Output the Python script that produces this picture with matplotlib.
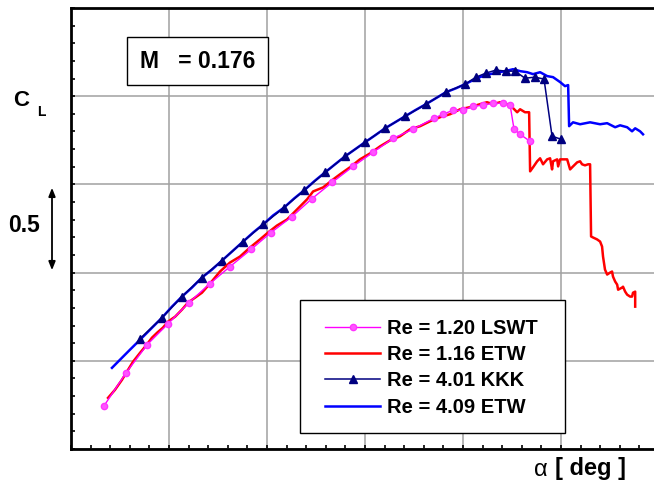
import matplotlib
matplotlib.use("Agg")
import matplotlib.pyplot as plt
from matplotlib.patches import Rectangle, FancyArrowPatch
from matplotlib.ticker import MultipleLocator, NullFormatter

plt.rcParams['font.family'] = ['Liberation Sans', 'DejaVu Sans']
plt.rcParams['font.weight'] = 'bold'

# Re = 1.20 LSWT (magenta, circles)
lswt_alpha = [-3.32, -2.19, -1.12, -0.05, 1.02, 2.09, 3.11, 4.18, 5.20, 6.28, 7.30, 8.32,
              9.39, 10.41, 11.43, 12.45, 13.52, 13.98, 14.49, 15.00, 15.51, 16.02, 16.53,
              17.04, 17.40, 17.60, 17.91, 18.42]
lswt_cl = [0.244, 0.432, 0.591, 0.710, 0.830, 0.938, 1.034, 1.131, 1.227, 1.318, 1.420, 1.511,
           1.602, 1.682, 1.761, 1.813, 1.875, 1.898, 1.920, 1.920, 1.943, 1.949, 1.960,
           1.960, 1.949, 1.813, 1.784, 1.744]

# Re = 1.16 ETW (red)
etw1_alpha = [-3.11, -2.76, -2.40, -2.09, -1.84, -1.48, -1.22, -0.87, -0.61, -0.31, -0.05, 0.31,
              0.66, 0.97, 1.33, 1.68, 2.09, 2.60, 3.11, 3.62, 4.13, 4.64, 5.05, 5.51, 6.02,
              6.53, 7.04, 7.35, 7.86, 8.37, 8.72, 9.23, 9.74, 10.26, 10.77, 11.28, 11.79,
              12.30, 12.81, 13.32, 13.83, 14.34, 14.85, 15.36, 15.87, 16.22, 16.53, 16.89,
              17.24, 17.50, 17.76, 17.91, 18.16, 18.37, 18.42, 18.57, 18.78, 18.93, 19.08,
              19.29, 19.44, 19.54, 19.59, 19.80, 19.85, 19.95, 20.10, 20.31, 20.46, 20.61,
              20.82, 20.97, 21.07, 21.22, 21.38, 21.48, 21.53, 21.63, 21.84, 21.99, 22.09,
              22.14, 22.24, 22.35, 22.50, 22.60, 22.65, 22.76, 22.86, 22.91, 23.11, 23.16,
              23.27, 23.37, 23.52, 23.62, 23.67, 23.78, 23.78]
etw1_cl = [0.290, 0.335, 0.392, 0.449, 0.494, 0.545, 0.580, 0.631, 0.659, 0.688, 0.722, 0.750,
           0.790, 0.830, 0.858, 0.886, 0.938, 1.006, 1.057, 1.091, 1.142, 1.188, 1.227, 1.267,
           1.301, 1.358, 1.415, 1.460, 1.483, 1.528, 1.557, 1.597, 1.642, 1.676, 1.716,
           1.750, 1.773, 1.813, 1.830, 1.858, 1.881, 1.898, 1.926, 1.938, 1.955, 1.966,
           1.955, 1.966, 1.955, 1.938, 1.909, 1.926, 1.909, 1.909, 1.574, 1.597, 1.631,
           1.648, 1.614, 1.642, 1.648, 1.585, 1.631, 1.642, 1.602, 1.642, 1.642, 1.642,
           1.585, 1.602, 1.625, 1.631, 1.614, 1.608, 1.614, 1.614, 1.205, 1.199, 1.188,
           1.176, 1.148, 1.091, 1.017, 0.989, 1.000, 1.006, 0.977, 0.949, 0.932, 0.903,
           0.915, 0.920, 0.892, 0.875, 0.864, 0.864, 0.886, 0.892, 0.807]

# Re = 4.01 KKK (navy, triangles)
kkk_alpha = [-1.48, -0.36, 0.66, 1.68, 2.70, 3.78, 4.80, 5.87, 6.89, 7.96, 8.98, 10.00,
             11.02, 12.04, 13.11, 14.13, 15.10, 15.66, 16.17, 16.68, 17.19, 17.65, 18.16,
             18.67, 19.13, 19.54, 20.00]
kkk_cl = [0.625, 0.744, 0.864, 0.972, 1.068, 1.176, 1.273, 1.369, 1.466, 1.568, 1.659, 1.739,
          1.818, 1.886, 1.955, 2.023, 2.068, 2.108, 2.131, 2.148, 2.142, 2.142, 2.102,
          2.108, 2.097, 1.773, 1.756]

# Re = 4.09 ETW (blue)
etw4_alpha = [-2.91, -2.50, -1.99, -1.48, -0.97, -0.36, 0.15, 0.66, 1.17, 1.68, 2.19, 2.70,
              3.21, 3.78, 4.29, 4.80, 5.31, 5.87, 6.38, 6.89, 7.40, 7.96, 8.47, 8.98, 9.49,
              10.00, 10.51, 11.02, 11.53, 12.04, 12.55, 13.11, 13.62, 14.13, 14.64, 15.10,
              15.61, 16.12, 16.63, 17.14, 17.55, 17.91, 18.27, 18.57, 18.93, 19.29, 19.59,
              19.95, 20.20, 20.36, 20.41, 20.61, 20.97, 21.48, 21.99, 22.35, 22.76, 23.01,
              23.37, 23.62, 23.78, 24.03, 24.18]
etw4_cl = [0.460, 0.506, 0.563, 0.619, 0.676, 0.744, 0.807, 0.864, 0.915, 0.972, 1.017, 1.068,
           1.119, 1.176, 1.227, 1.273, 1.324, 1.369, 1.420, 1.466, 1.517, 1.568, 1.614,
           1.659, 1.699, 1.739, 1.778, 1.818, 1.852, 1.886, 1.920, 1.955, 1.989, 2.023,
           2.045, 2.068, 2.097, 2.119, 2.131, 2.142, 2.153, 2.142, 2.136, 2.125, 2.136,
           2.114, 2.108, 2.080, 2.057, 2.063, 1.830, 1.852, 1.841, 1.852, 1.841, 1.847,
           1.824, 1.835, 1.824, 1.801, 1.818, 1.801, 1.784]

W, H = 654, 483
fig = plt.figure(figsize=(W / 100, H / 100), dpi=100)
ax = fig.add_axes([71 / W, 1 - 449 / H, 1 - 71 / W, 441 / H])

ax.plot(lswt_alpha, lswt_cl, color='#ff00ff', lw=1.0, marker='o', ms=4.5,
        mec='#ff33ff', mfc='#ff55ff', label='Re = 1.20 LSWT', zorder=6)
ax.plot(etw1_alpha, etw1_cl, color='#ff0000', lw=1.8, label='Re = 1.16 ETW', zorder=5)
ax.plot(kkk_alpha, kkk_cl, color='#000080', lw=1.1, marker='^', ms=5.5,
        label='Re = 4.01 KKK', zorder=4)
ax.plot(etw4_alpha, etw4_cl, color='#0000ff', lw=1.8, label='Re = 4.09 ETW', zorder=3)

ax.set_xlim(-5, 24.74)
ax.set_ylim(0, 2.5)
ax.xaxis.set_major_locator(MultipleLocator(5))
ax.xaxis.set_minor_locator(MultipleLocator(1))
ax.yaxis.set_major_locator(MultipleLocator(0.5))
ax.yaxis.set_minor_locator(MultipleLocator(0.1))
ax.xaxis.set_major_formatter(NullFormatter())
ax.yaxis.set_major_formatter(NullFormatter())
ax.tick_params(which='both', direction='in', length=3, width=1.2, color='black')
ax.grid(True, which='major', color='#a0a0a0', lw=1.1)
ax.set_axisbelow(True)
for s in ['left', 'top', 'bottom']:
    ax.spines[s].set_linewidth(2.0)
ax.spines['right'].set_visible(False)

# legend frame drawn separately, entries placed inside it
fig.patches.append(Rectangle((300 / W, 1 - 433 / H), 265 / W, 133 / H,
                             transform=fig.transFigure, fc='white', ec='black',
                             lw=1.0, zorder=10))
leg = ax.legend(loc='upper left', bbox_to_anchor=(325 / W, 1 - 319 / H),
                bbox_transform=fig.transFigure, fontsize=14.5, frameon=False,
                handlelength=2.75, handletextpad=0.35, labelspacing=0.36,
                borderpad=0, borderaxespad=0)
leg.remove()
fig.add_artist(leg)
leg.set_zorder(11)

fig.text(140 / W, 1 - 61 / H, 'M   = 0.176', fontsize=16.5, fontweight='bold',
         va='center', ha='left',
         bbox=dict(boxstyle='square,pad=0.55', fc='white', ec='black', lw=1.0))
fig.text(21 / W, 1 - 100 / H, 'C', fontsize=16, fontweight='bold', va='center', ha='center')
fig.text(41 / W, 1 - 112 / H, 'L', fontsize=10, fontweight='bold', va='center', ha='center')
fig.text(24 / W, 1 - 226 / H, '0.5', fontsize=16.5, fontweight='bold', va='center', ha='center')
fig.text(541 / W, 1 - 470 / H, 'α', fontsize=17, fontweight='normal',
         va='center', ha='center')
fig.text(555 / W, 1 - 469 / H, '[ deg ]', fontsize=17, fontweight='bold',
         va='center', ha='left')
fig.patches.append(FancyArrowPatch(
    (52 / W, 1 - 185 / H), (52 / W, 1 - 273 / H), transform=fig.transFigure,
    arrowstyle='<|-|>,head_length=5,head_width=2', color='black', lw=1.3))

fig.savefig('out.png', dpi=100)
